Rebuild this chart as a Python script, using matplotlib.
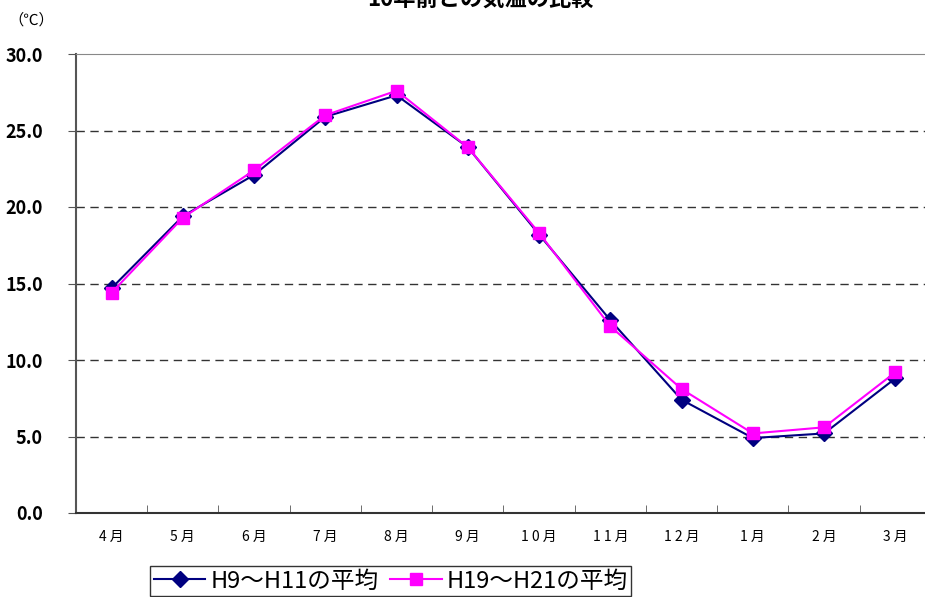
import matplotlib.pyplot as plt

plt.rcParams['font.family'] = ['Noto Sans CJK JP', 'DejaVu Sans']

months = ['4月', '5月', '6月', '7月', '8月', '9月', '10月', '11月', '12月', '1月', '2月', '3月']
h9_h11 = [14.7, 19.4, 22.1, 25.9, 27.3, 23.9, 18.2, 12.6, 7.4, 4.9, 5.2, 8.8]
h19_h21 = [14.4, 19.3, 22.4, 26.0, 27.6, 23.9, 18.3, 12.2, 8.1, 5.2, 5.6, 9.2]

W, H = 925, 597
fig = plt.figure(figsize=(W / 100, H / 100), dpi=100)
# plot area: x 76..931 px, y 54..513 px
ax = fig.add_axes([76 / W, 1 - 513 / H, (931 - 76) / W, (513 - 54) / H])

x = list(range(len(months)))
ax.plot(x, h9_h11, color='#000080', marker='D', markersize=8, linewidth=1.5,
        label='H9〜H11の平均')
ax.plot(x, h19_h21, color='#FF00FF', marker='s', markersize=8, linewidth=1.5,
        label='H19〜H21の平均')

ax.set_xlim(-0.5, 11.5)
ax.set_ylim(0, 30)
ax.set_yticks([0, 5, 10, 15, 20, 25, 30])
ax.set_yticklabels(['%.1f' % v for v in [0, 5, 10, 15, 20, 25, 30]],
                   fontsize=13, fontweight='bold')
for v in [5, 10, 15, 20, 25]:
    ax.axhline(v, color='#333333', linestyle=(0, (6, 4)), linewidth=1, zorder=0)

ax.set_xticks(x)
ax.set_xticklabels([' '.join(m) for m in months], fontsize=10)
ax.tick_params(axis='x', length=0, pad=12)
ax.set_xticks([i + 0.5 for i in x], minor=True)
ax.tick_params(axis='x', which='minor', direction='in', length=6, color='#555555')
ax.tick_params(axis='y', direction='out', length=6, color='#555555', pad=18)

ax.spines['right'].set_visible(False)
ax.spines['top'].set_color('#888888')
ax.spines['left'].set_color('#555555')
ax.spines['left'].set_linewidth(1.5)
ax.spines['bottom'].set_color('#333333')
ax.spines['bottom'].set_linewidth(1.5)

fig.text(8 / W, 1 - 20 / H, '（℃）', fontsize=11, va='center', ha='left')
fig.text(480 / W, 1 - 6 / H, '10年前との気温の比較', fontsize=16, fontweight='bold',
         ha='center', va='baseline')

leg = fig.legend(loc='upper left', bbox_to_anchor=(150 / W, 1 - 566 / H), ncol=2,
                 fontsize=17, frameon=True, fancybox=False, handlelength=2.2,
                 handletextpad=0.2, columnspacing=0.5, borderpad=0.15,
                 borderaxespad=0)
leg.get_frame().set_edgecolor('black')
leg.get_frame().set_linewidth(1)

fig.savefig('out.png', dpi=100)
